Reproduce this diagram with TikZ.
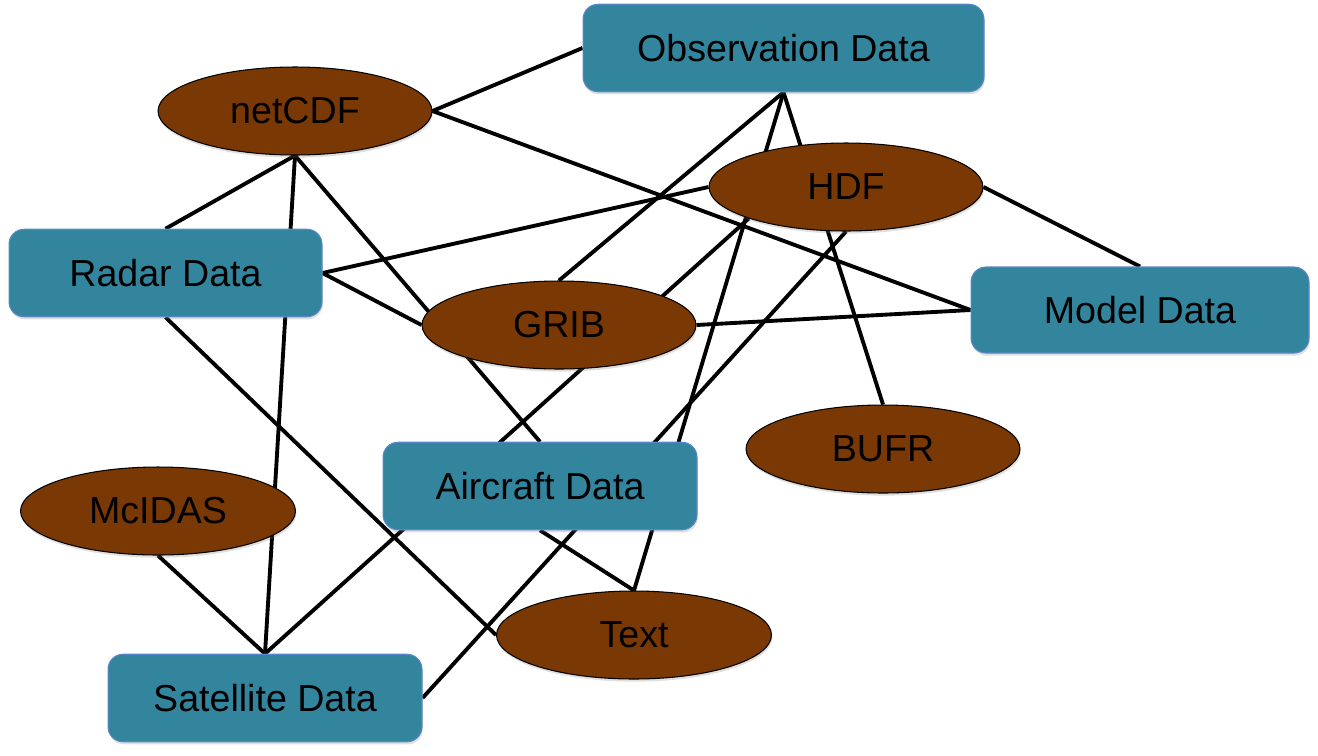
\documentclass[tikz,border=0pt]{standalone}
\usepackage{fontspec}
\setmainfont{Liberation Sans}
\usetikzlibrary{shapes.geometric}
\usetikzlibrary{backgrounds}
\usetikzlibrary{shadows}

\definecolor{datateal}{HTML}{33859E}
\definecolor{dataedge}{HTML}{5A87C5}
\definecolor{fmtbrown}{HTML}{7A3805}

\begin{document}
\begin{tikzpicture}[x=0.02cm, y=-0.02cm,
	every node/.style={font=\fontsize{21.4}{25}\selectfont, inner sep=0pt},
	datasrc/.style={rectangle, rounded corners=0.3cm, fill=datateal, draw=dataedge, line width=0.6pt,
		minimum width=6.26cm, minimum height=1.75cm,
		drop shadow={opacity=0.25, shadow xshift=0.5pt, shadow yshift=-1.5pt}},
	fmt/.style={ellipse, fill=fmtbrown, draw=black, line width=0.6pt,
		minimum width=5.48cm, minimum height=1.76cm,
		drop shadow={opacity=0.25, shadow xshift=0.5pt, shadow yshift=-1.5pt}},
	link/.style={line width=2.2pt, black}]
	\useasboundingbox (0,0) rectangle (1318,755);
	% data sources
	\node[datasrc, minimum width=8.02cm] (obs) at (783.5,48) {Observation Data};
	\node[datasrc] (radar) at (165.5,273) {Radar Data};
	\node[datasrc, minimum width=6.76cm, minimum height=1.72cm] (model) at (1140,310) {Model Data};
	\node[datasrc, minimum width=6.28cm] (aircraft) at (540,486) {Aircraft Data};
	\node[datasrc, minimum width=6.28cm] (sat) at (265,698) {Satellite Data};
	% formats
	\node[fmt] (netcdf) at (295,111) {netCDF};
	\node[fmt] (hdf) at (846,187) {HDF};
	\node[fmt] (grib) at (559,325) {GRIB};
	\node[fmt] (bufr) at (883,449) {BUFR};
	\node[fmt, minimum width=5.5cm] (mcidas) at (158,511) {McIDAS};
	\node[fmt, minimum width=5.5cm] (text) at (634,635) {Text};
	% links behind everything
	\begin{scope}[on background layer]
		\draw[link] (netcdf.east) -- (obs.west);
		\draw[link] (netcdf.east) -- (model.west);
		\draw[link] (netcdf.south) -- (radar.north);
		\draw[link] (netcdf.south) -- (sat.north);
		\draw[link] (netcdf.south) -- (aircraft.north);
		\draw[link] (radar.east) -- (hdf.west);
		\draw[link] (radar.east) -- (grib.west);
		\draw[link] (radar.south) -- (text.west);
		\draw[link] (obs.south) -- (grib.north);
		\draw[link] (obs.south) -- (text.north);
		\draw[link] (obs.south) -- (bufr.north);
		\draw[link] (hdf.east) -- (model.north);
		\draw[link] (hdf.south west) -- (sat.north);
		\draw[link] (hdf.south) -- (sat.east);
		\draw[link] (grib.east) -- (model.west);
		\draw[link] (aircraft.south) -- (text.north);
		\draw[link] (mcidas.south) -- (sat.north);
	\end{scope}
\end{tikzpicture}
\end{document}
